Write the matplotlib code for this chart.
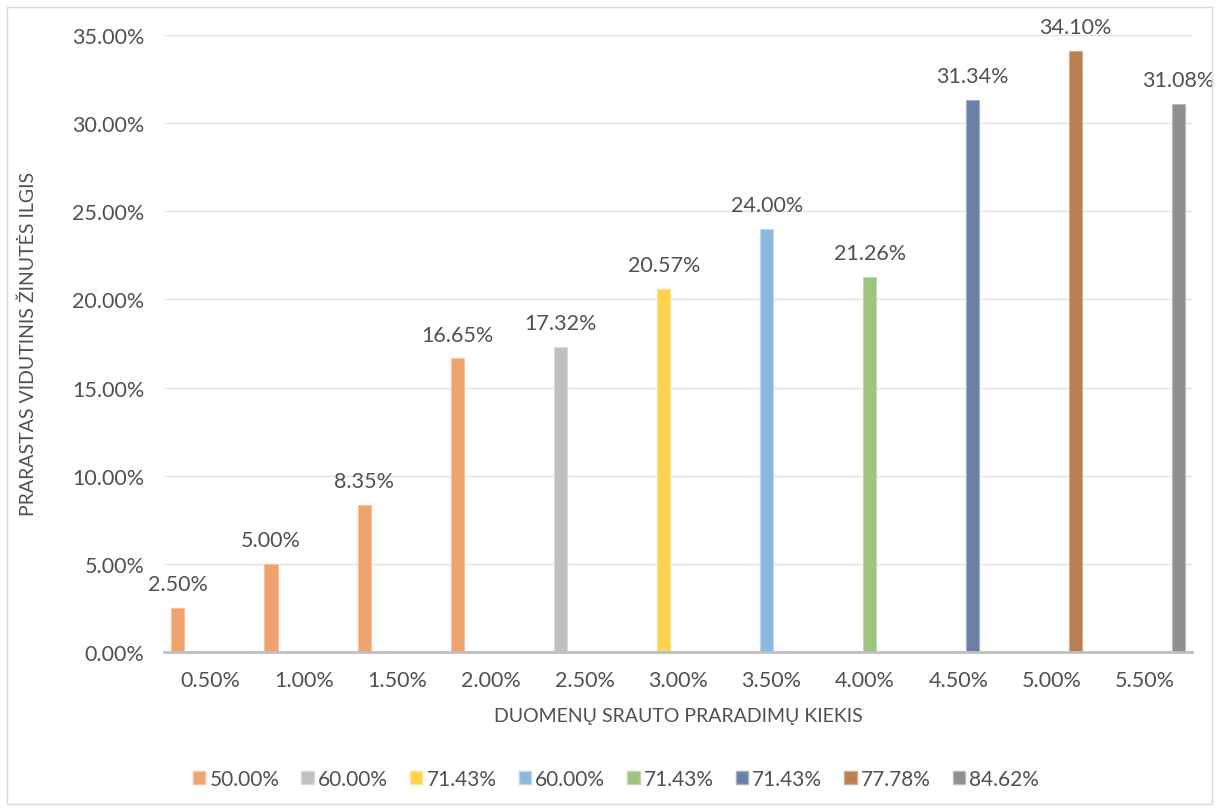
import matplotlib
matplotlib.use("Agg")
import matplotlib.pyplot as plt
from matplotlib.patches import Rectangle
import numpy as np

categories = ["0.50%", "1.00%", "1.50%", "2.00%", "2.50%", "3.00%",
              "3.50%", "4.00%", "4.50%", "5.00%", "5.50%"]
series_names = ["50.00%", "60.00%", "71.43%", "60.00%", "71.43%", "71.43%", "77.78%", "84.62%"]
# values per series (None = no bar in that category)
s1 = [2.50, 5.00, 8.35, 16.65, None, None, None, None, None, None, None]
s2 = [None, None, None, None, 17.32, None, None, None, None, None, None]
s3 = [None, None, None, None, None, 20.57, None, None, None, None, None]
s4 = [None, None, None, None, None, None, 24.00, None, None, None, None]
s5 = [None, None, None, None, None, None, None, 21.26, None, None, None]
s6 = [None, None, None, None, None, None, None, None, 31.34, None, None]
s7 = [None, None, None, None, None, None, None, None, None, 34.10, None]
s8 = [None, None, None, None, None, None, None, None, None, None, 31.08]
series_values = [s1, s2, s3, s4, s5, s6, s7, s8]
colors = ["#F0A46D", "#C0C0C0", "#FFD34D", "#8CB8E0", "#9DC57E", "#6A7FA6", "#BA7F52", "#8F8F8F"]
edges = ["#F6C3A0", "#D8D8D8", "#FFE38F", "#BCD5EE", "#C0DBAC", "#A2B0CA", "#D4AA8B", "#BBBBBB"]

FONT = ["Lato", "DejaVu Sans"]
TXT = "#505050"
FS = 15.5
plt.rcParams['font.family'] = FONT

fig = plt.figure(figsize=(12.2, 8.12), dpi=100)
ax = fig.add_axes([164/1220, 1-653/812, (1192-164)/1220, (653-36)/812])

x = np.arange(len(categories))
step = 0.1016
width = 0.142
for i, (vals, c, ec) in enumerate(zip(series_values, colors, edges)):
    off = (i - 3.5) * step
    xs = [xi + off for xi, v in zip(x, vals) if v is not None]
    ys = [v for v in vals if v is not None]
    ax.bar(xs, ys, width=width, color=c, edgecolor=ec, linewidth=0.8,
           label=series_names[i], zorder=3)
    for xx, yy in zip(xs, ys):
        ax.annotate(f"{yy:.2f}%", (xx, yy), xytext=(0, 10), textcoords="offset points",
                    ha="center", va="bottom", fontsize=FS, color=TXT)

ax.set_xlim(-0.5, len(categories) - 0.5)
ax.set_ylim(0, 35)
ax.set_yticks(np.arange(0, 35.1, 5))
ax.set_yticklabels([f"{v:.2f}%" for v in np.arange(0, 35.1, 5)])
ax.set_xticks(x)
ax.set_xticklabels(categories)
ax.tick_params(axis="both", length=0, labelsize=FS, colors=TXT)
ax.tick_params(axis="x", pad=13)
ax.tick_params(axis="y", pad=14)
ax.grid(axis="y", color="#E3E3E3", linewidth=1, zorder=0)
for s in ["top", "right", "left"]:
    ax.spines[s].set_visible(False)
ax.spines["bottom"].set_color("#BFBFBF")
ax.spines["bottom"].set_linewidth(2)
ax.spines["bottom"].set_zorder(4)

fig.text(678/1220, 1-717/812, "DUOMENŲ SRAUTO PRARADIMŲ KIEKIS", ha="center", va="center",
         fontsize=14, color=TXT)
fig.text(28/1220, 1-344/812, "PRARASTAS VIDUTINIS ŽINUTĖS ILGIS", ha="center", va="center",
         rotation=90, fontsize=14, color=TXT)

handles = [Rectangle((0, 0), 1, 1, facecolor=c, edgecolor=ec) for c, ec in zip(colors, edges)]
fig.legend(handles, series_names, loc="center", bbox_to_anchor=(616/1220, 1-780/812), ncol=8,
           frameon=False, fontsize=15, labelcolor=TXT, handlelength=0.6, handleheight=0.6,
           handletextpad=0.2, columnspacing=1.05)

fig.add_artist(Rectangle((7/1220, 1-805/812), (1212-7)/1220, (805-8)/812, transform=fig.transFigure,
                         fill=False, edgecolor="#D9D9D9", linewidth=1))

fig.savefig("out.png", dpi=100)
